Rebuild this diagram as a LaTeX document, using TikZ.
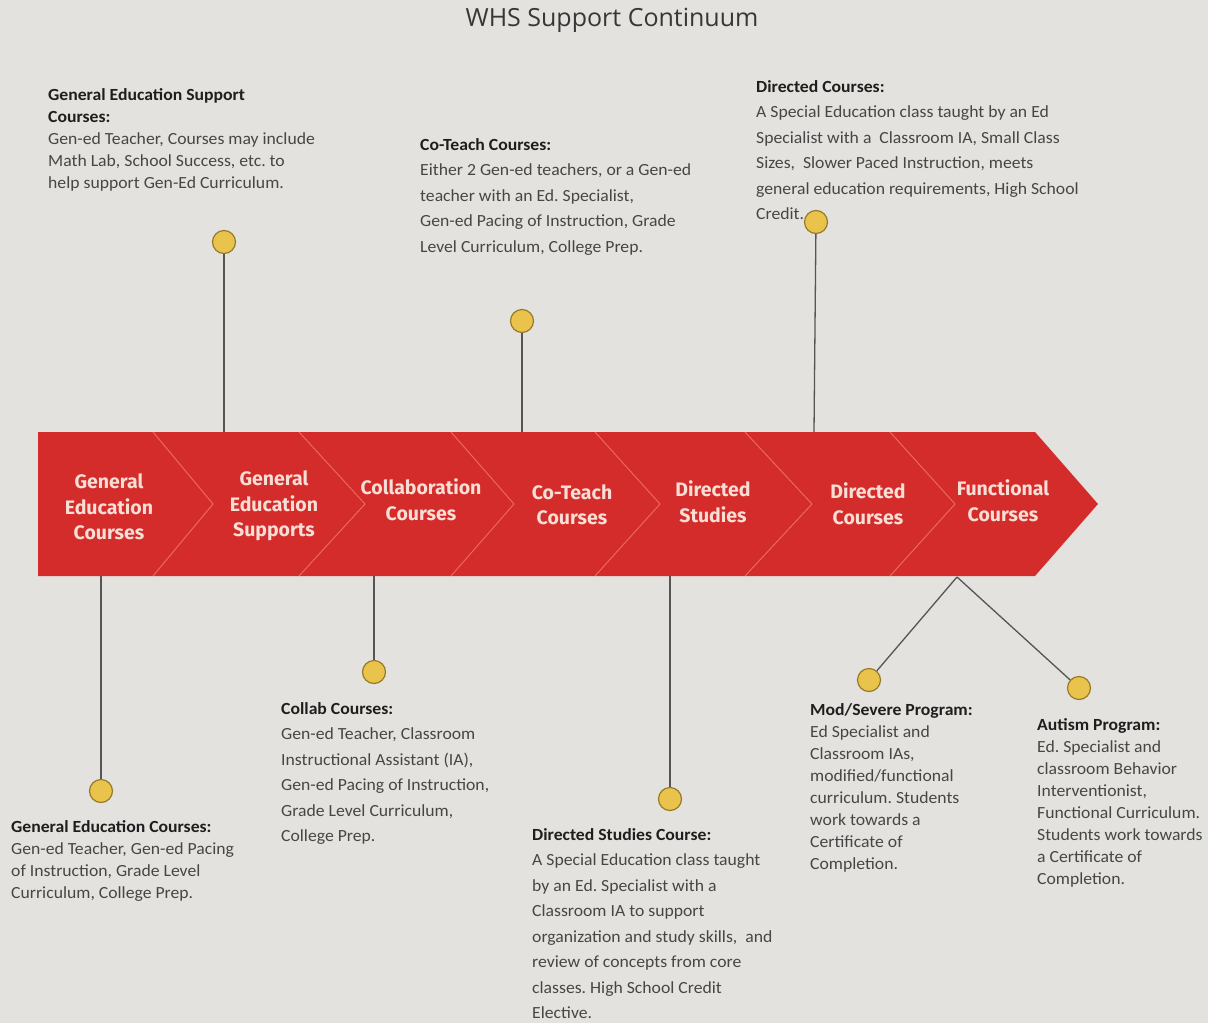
\documentclass[tikz,border=0pt]{standalone}
\usepackage{fontspec}
\setmainfont{Carlito}[FakeStretch=1.04]
\newfontfamily\arrowfont{Fira Sans}
\newfontfamily\titlefont{Open Sans}
\definecolor{bgc}{RGB}{228,226,222}
\definecolor{arrowred}{RGB}{212,43,43}
\definecolor{chevc}{RGB}{236,104,92}
\definecolor{labtext}{RGB}{248,222,212}
\definecolor{desctext}{RGB}{70,70,70}
\definecolor{headc}{RGB}{30,30,30}
\definecolor{titlegrey}{RGB}{55,55,55}
\definecolor{linec}{RGB}{85,85,85}
\definecolor{dotfill}{RGB}{234,195,76}
\definecolor{dotdraw}{RGB}{150,122,40}
\tikzset{
  chev/.style={draw=chevc, line width=1pt},
  lab/.style={font=\arrowfont\bfseries\fontsize{19.5}{25.5}\selectfont, text=labtext, align=center, inner sep=0pt},
  desc/.style={anchor=north west, inner sep=0pt, align=left, text=desctext, font=\fontsize{17}{25.5}\selectfont},
  desct/.style={desc, font=\fontsize{17}{22}\selectfont},
  dot/.style={circle, fill=dotfill, draw=dotdraw, line width=1.2pt, minimum size=23pt, inner sep=0pt},
  conn/.style={draw=linec, line width=1.3pt},
}
\newcommand{\hd}[1]{{\color{headc}\bfseries #1}}
\frenchspacing
\begin{document}
\begin{tikzpicture}[x=1pt,y=-1pt]
\fill[bgc] (0,0) rectangle (1208,1023);
\useasboundingbox (0,0) rectangle (1208,1023);
\node[font=\titlefont\fontsize{25}{30}\selectfont, text=titlegrey] (title) at (612,20) {WHS Support Continuum};
% arrow band
\fill[arrowred] (38,432) -- (1035,432) -- (1098,504) -- (1035,576) -- (38,576) -- cycle;
\foreach \a/\b in {153/213, 299/365, 451/514, 595/660, 745/812, 890/955}
  \draw[chev] (\a,432) -- (\b,504) -- (\a,576);
% stage labels
\node[lab] (s1) at (109,507) {General\\Education\\Courses};
\node[lab] (s2) at (274,506) {General\\Education\\Supports};
\node[lab] (s3) at (421,500) {Collaboration\\Courses};
\node[lab] (s4) at (572,505) {Co-Teach\\Courses};
\node[lab] (s5) at (713,502) {Directed\\Studies};
\node[lab] (s6) at (868,504) {Directed\\Courses};
\node[lab] (s7) at (1003,501) {Functional\\Courses};
% edge points
\coordinate (e1) at (224,432);
\coordinate (e2) at (522,432);
\coordinate (e3) at (814,432);
\coordinate (e4) at (101,576);
\coordinate (e5) at (374,576);
\coordinate (e6) at (670,576);
\coordinate (e7) at (957,577);
% dots
\node[dot] (c1) at (224,242) {};
\node[dot] (c2) at (522,321) {};
\node[dot] (c3) at (816,222) {};
\node[dot] (c4) at (101,791) {};
\node[dot] (c5) at (374,672) {};
\node[dot] (c6) at (670,799) {};
\node[dot] (c7) at (869,680) {};
\node[dot] (c8) at (1079,688) {};
\draw[conn] (e1) -- (c1);
\draw[conn] (e2) -- (c2);
\draw[conn] (e3) -- (c3);
\draw[conn] (e4) -- (c4);
\draw[conn] (e5) -- (c5);
\draw[conn] (e6) -- (c6);
\draw[conn] (e7) -- (c7);
\draw[conn] (e7) -- (c8);
% descriptions
\node[desct] (dA) at (48,88) {\hd{General Education Support}\\\hd{Courses:}\\Gen-ed Teacher, Courses may include\\Math Lab, School Success, etc. to\\help support Gen-Ed Curriculum.};
\node[desc] (dB) at (420,138) {\hd{Co-Teach Courses:}\\Either 2 Gen-ed teachers, or a Gen-ed\\teacher with an Ed. Specialist,\\Gen-ed Pacing of Instruction, Grade\\Level Curriculum, College Prep.};
\node[desc] (dC) at (756,80) {\hd{Directed Courses:}\\A Special Education class taught by an Ed\\Specialist with a\ \ Classroom IA, Small Class\\Sizes,\ \ Slower Paced Instruction, meets\\general education requirements, High School\\Credit.};
\node[desct] (dD) at (11,820) {\hd{General Education Courses:}\\Gen-ed Teacher, Gen-ed Pacing\\of Instruction, Grade Level\\Curriculum, College Prep.};
\node[desc] (dE) at (281,702) {\hd{Collab Courses:}\\Gen-ed Teacher, Classroom\\Instructional Assistant (IA),\\Gen-ed Pacing of Instruction,\\Grade Level Curriculum,\\College Prep.};
\node[desc] (dF) at (532,828) {\hd{Directed Studies Course:}\\A Special Education class taught\\by an Ed. Specialist with a\\Classroom IA to support\\organization and study skills,\ \ and\\review of concepts from core\\classes. High School Credit\\Elective.};
\node[desct] (dG) at (810,703) {\hd{Mod/Severe Program:}\\Ed Specialist and\\Classroom IAs,\\modified/functional\\curriculum. Students\\work towards a\\Certificate of\\Completion.};
\node[desct] (dH) at (1037,718) {\hd{Autism Program:}\\Ed. Specialist and\\classroom Behavior\\Interventionist,\\Functional Curriculum.\\Students work towards\\a Certificate of\\Completion.};
\end{tikzpicture}
\end{document}
